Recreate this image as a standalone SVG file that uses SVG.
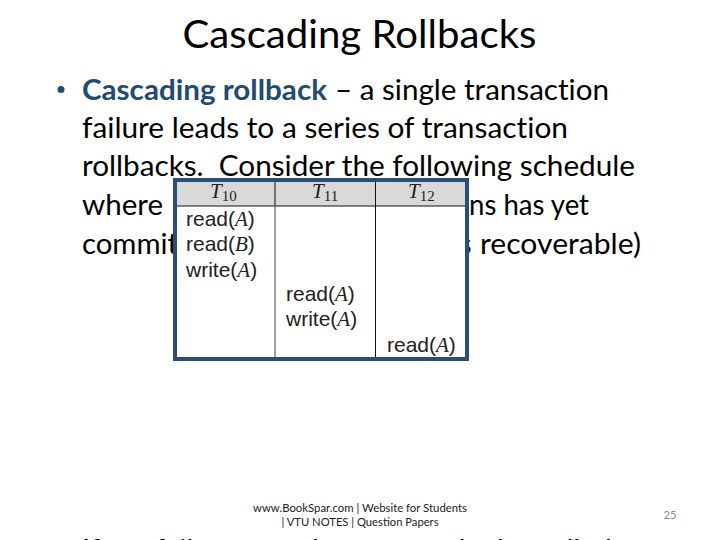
<svg xmlns="http://www.w3.org/2000/svg" width="720" height="540" viewBox="0 0 720 540">
<style>
.b{font-family:"Lato","Open Sans",sans-serif;font-size:29px;fill:#000;white-space:pre;font-variant-ligatures:none}
.h{font-family:"Liberation Serif",serif;font-style:italic;font-size:21px;fill:#222}
.s{font-family:"Liberation Serif",serif;font-style:normal;font-size:15px}
.c{font-family:"Liberation Sans",sans-serif;font-size:21px;fill:#222}
.c tspan{font-family:"Liberation Serif",serif;font-style:italic}
.f{font-family:"Lato","Open Sans",sans-serif;font-size:11px;fill:#222;text-anchor:middle}
</style>
<rect width="720" height="540" fill="#fff"/>
<text x="359.500" y="48" text-anchor="middle" style="font-family:Lato,'Open Sans',sans-serif;font-size:39px" textLength="354" lengthAdjust="spacingAndGlyphs">Cascading Rollbacks</text>
<g id="body">
<circle cx="61" cy="89.500" r="3.500" fill="#234a73"/>
<text class="b" x="82" y="100" textLength="245" lengthAdjust="spacingAndGlyphs" style="font-weight:700;fill:#234a73">Cascading rollback</text>
<text class="b" x="335" y="100" textLength="274" lengthAdjust="spacingAndGlyphs">– a single transaction</text>
<text class="b" x="82" y="138" textLength="486" lengthAdjust="spacingAndGlyphs">failure leads to a series of transaction</text>
<text class="b" x="82" y="176" textLength="553" lengthAdjust="spacingAndGlyphs">rollbacks.  Consider the following schedule</text>
<text class="b" x="82" y="215" textLength="81" lengthAdjust="spacingAndGlyphs">where</text>
<text class="b" x="469" y="215" textLength="120" lengthAdjust="spacingAndGlyphs">ns has yet</text>
<text class="b" x="82" y="254" textLength="96" lengthAdjust="spacingAndGlyphs">commit</text>
<text class="b" x="459" y="254">s</text>
<text class="b" x="480" y="254" textLength="161" lengthAdjust="spacingAndGlyphs">recoverable)</text>
<text class="b" y="560"><tspan x="82">If</tspan> <tspan x="107" dy="3">T10</tspan> <tspan x="155" dy="-3">fails,</tspan> <tspan x="225" dy="3">T11</tspan> <tspan x="272" dy="-3">and</tspan> <tspan x="320" dy="3">T12</tspan> <tspan x="368" dy="-3">must</tspan> <tspan x="444">also</tspan> <tspan x="497">be</tspan> <tspan x="540">rolled</tspan></text>
</g>
<g id="schedule-table">
<rect x="175" y="180" width="292" height="179" fill="#fff"/>
<rect x="175" y="180" width="292" height="26" fill="#d9d9d9"/>
<path d="M175 206H467M375.500 180V359M275 180V206" stroke="#111" stroke-width="1" fill="none"/>
<path d="M275 206V359" stroke="#808080" stroke-width="1.500" fill="none"/>
<rect x="175" y="180" width="292" height="179" fill="none" stroke="#2c4d75" stroke-width="4"/>
<text class="h" x="210" y="198">T<tspan class="s" dy="3">10</tspan></text>
<text class="h" x="312" y="198">T<tspan class="s" dy="3">11</tspan></text>
<text class="h" x="408" y="198">T<tspan class="s" dy="3">12</tspan></text>
<text class="c" x="186" y="226">read(<tspan>A</tspan>)</text>
<text class="c" x="186" y="251">read(<tspan>B</tspan>)</text>
<text class="c" x="186" y="277">write(<tspan>A</tspan>)</text>
<text class="c" x="286" y="301">read(<tspan>A</tspan>)</text>
<text class="c" x="286" y="326">write(<tspan>A</tspan>)</text>
<text class="c" x="387" y="352">read(<tspan>A</tspan>)</text>
</g>
<g id="footer">
<text class="f" x="360" y="512" textLength="214" lengthAdjust="spacingAndGlyphs">www.BookSpar.com | Website for Students</text>
<text class="f" x="360" y="526" textLength="157" lengthAdjust="spacingAndGlyphs">| VTU NOTES | Question Papers</text>
<text x="670" y="519" text-anchor="middle" style="font-family:Lato,sans-serif;font-size:11px;fill:#8a8a8a">25</text>
</g>
</svg>
